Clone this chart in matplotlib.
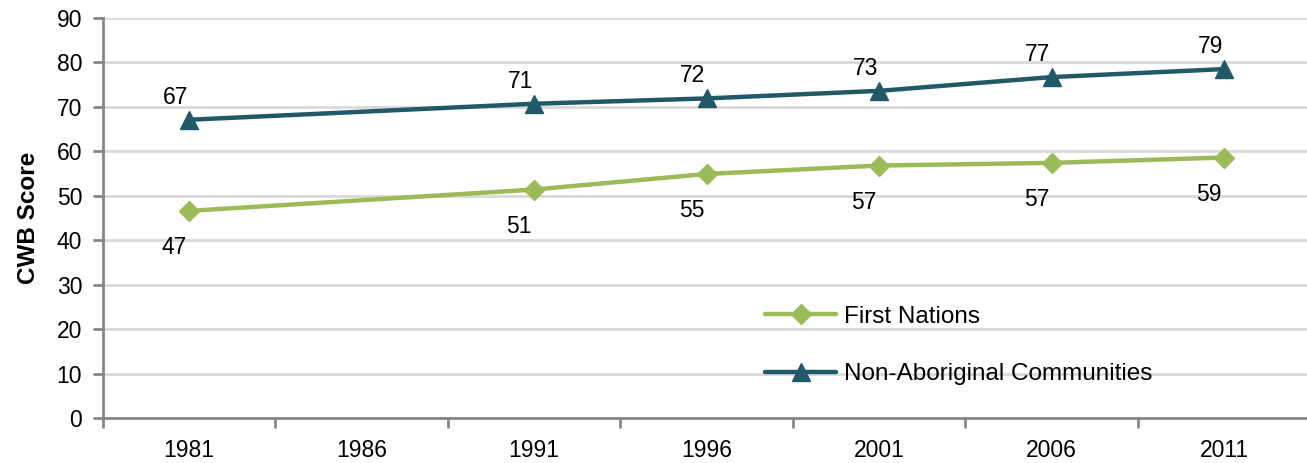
import numpy as np
import matplotlib
matplotlib.use("Agg")
import matplotlib.pyplot as plt

plt.rcParams['font.family'] = ['Liberation Sans', 'DejaVu Sans']

# Data
years = ['1981', '1986', '1991', '1996', '2001', '2006', '2011']
data_years = ['1981', '1991', '1996', '2001', '2006', '2011']
first_nations = [46.6, 51.4, 54.9, 56.8, 57.4, 58.6]
first_nations_labels = ['47', '51', '55', '57', '57', '59']
non_aboriginal = [67.1, 70.7, 71.9, 73.6, 76.7, 78.5]
non_aboriginal_labels = ['67', '71', '72', '73', '77', '79']

green = '#9BBB59'
teal = '#215968'
axis_gray = '#868686'
grid_gray = '#D9D9D9'

fig = plt.figure(figsize=(13.07, 4.63), dpi=100)
ax = fig.add_axes([0.0788, 0.0972, 0.9212, 0.864])

x = np.array([years.index(y) for y in data_years])

ax.plot(x, first_nations, color=green, lw=3.2, marker='D', markersize=10,
        label='First Nations', solid_capstyle='round')
ax.plot(x, non_aboriginal, color=teal, lw=3.2, marker='^', markersize=13,
        label='Non-Aboriginal Communities', solid_capstyle='round')

# data labels
for xi, v, t in zip(x, first_nations, first_nations_labels):
    ax.annotate(t, xy=(xi, v), xytext=(-11, -18), textcoords='offset points',
                ha='center', va='top', fontsize=16.5)
for xi, v, t in zip(x, non_aboriginal, non_aboriginal_labels):
    ax.annotate(t, xy=(xi, v), xytext=(-10, 8), textcoords='offset points',
                ha='center', va='bottom', fontsize=16.5)

ax.set_ylim(0, 90)
ax.set_yticks(range(0, 91, 10))
ax.set_xlim(-0.5, 6.48)
ax.set_xticks(np.arange(-0.5, 6, 1))
ax.set_xticklabels([])
ax.set_xticks(np.arange(len(years)), minor=True)
ax.set_xticklabels(years, minor=True)
ax.tick_params(axis='x', which='minor', length=0, pad=15, labelsize=16.5)
ax.tick_params(axis='x', which='major', length=7, width=2, color=axis_gray, direction='out')
ax.tick_params(axis='y', length=7, width=2, color=axis_gray, labelsize=16.5, pad=8)

ax.yaxis.grid(True, color=grid_gray, lw=2)
ax.set_axisbelow(True)
for s in ['top', 'right']:
    ax.spines[s].set_visible(False)
for s in ['left', 'bottom']:
    ax.spines[s].set_color(axis_gray)
    ax.spines[s].set_linewidth(2)

ax.set_ylabel('CWB Score', fontsize=17.5, fontweight='bold', labelpad=12)

ax.legend(loc='upper left', bbox_to_anchor=(0.532, 0.335), frameon=False,
          fontsize=17.5, handlelength=2.9, labelspacing=1.45, handletextpad=0.33)

fig.savefig('out.png', dpi=100)
